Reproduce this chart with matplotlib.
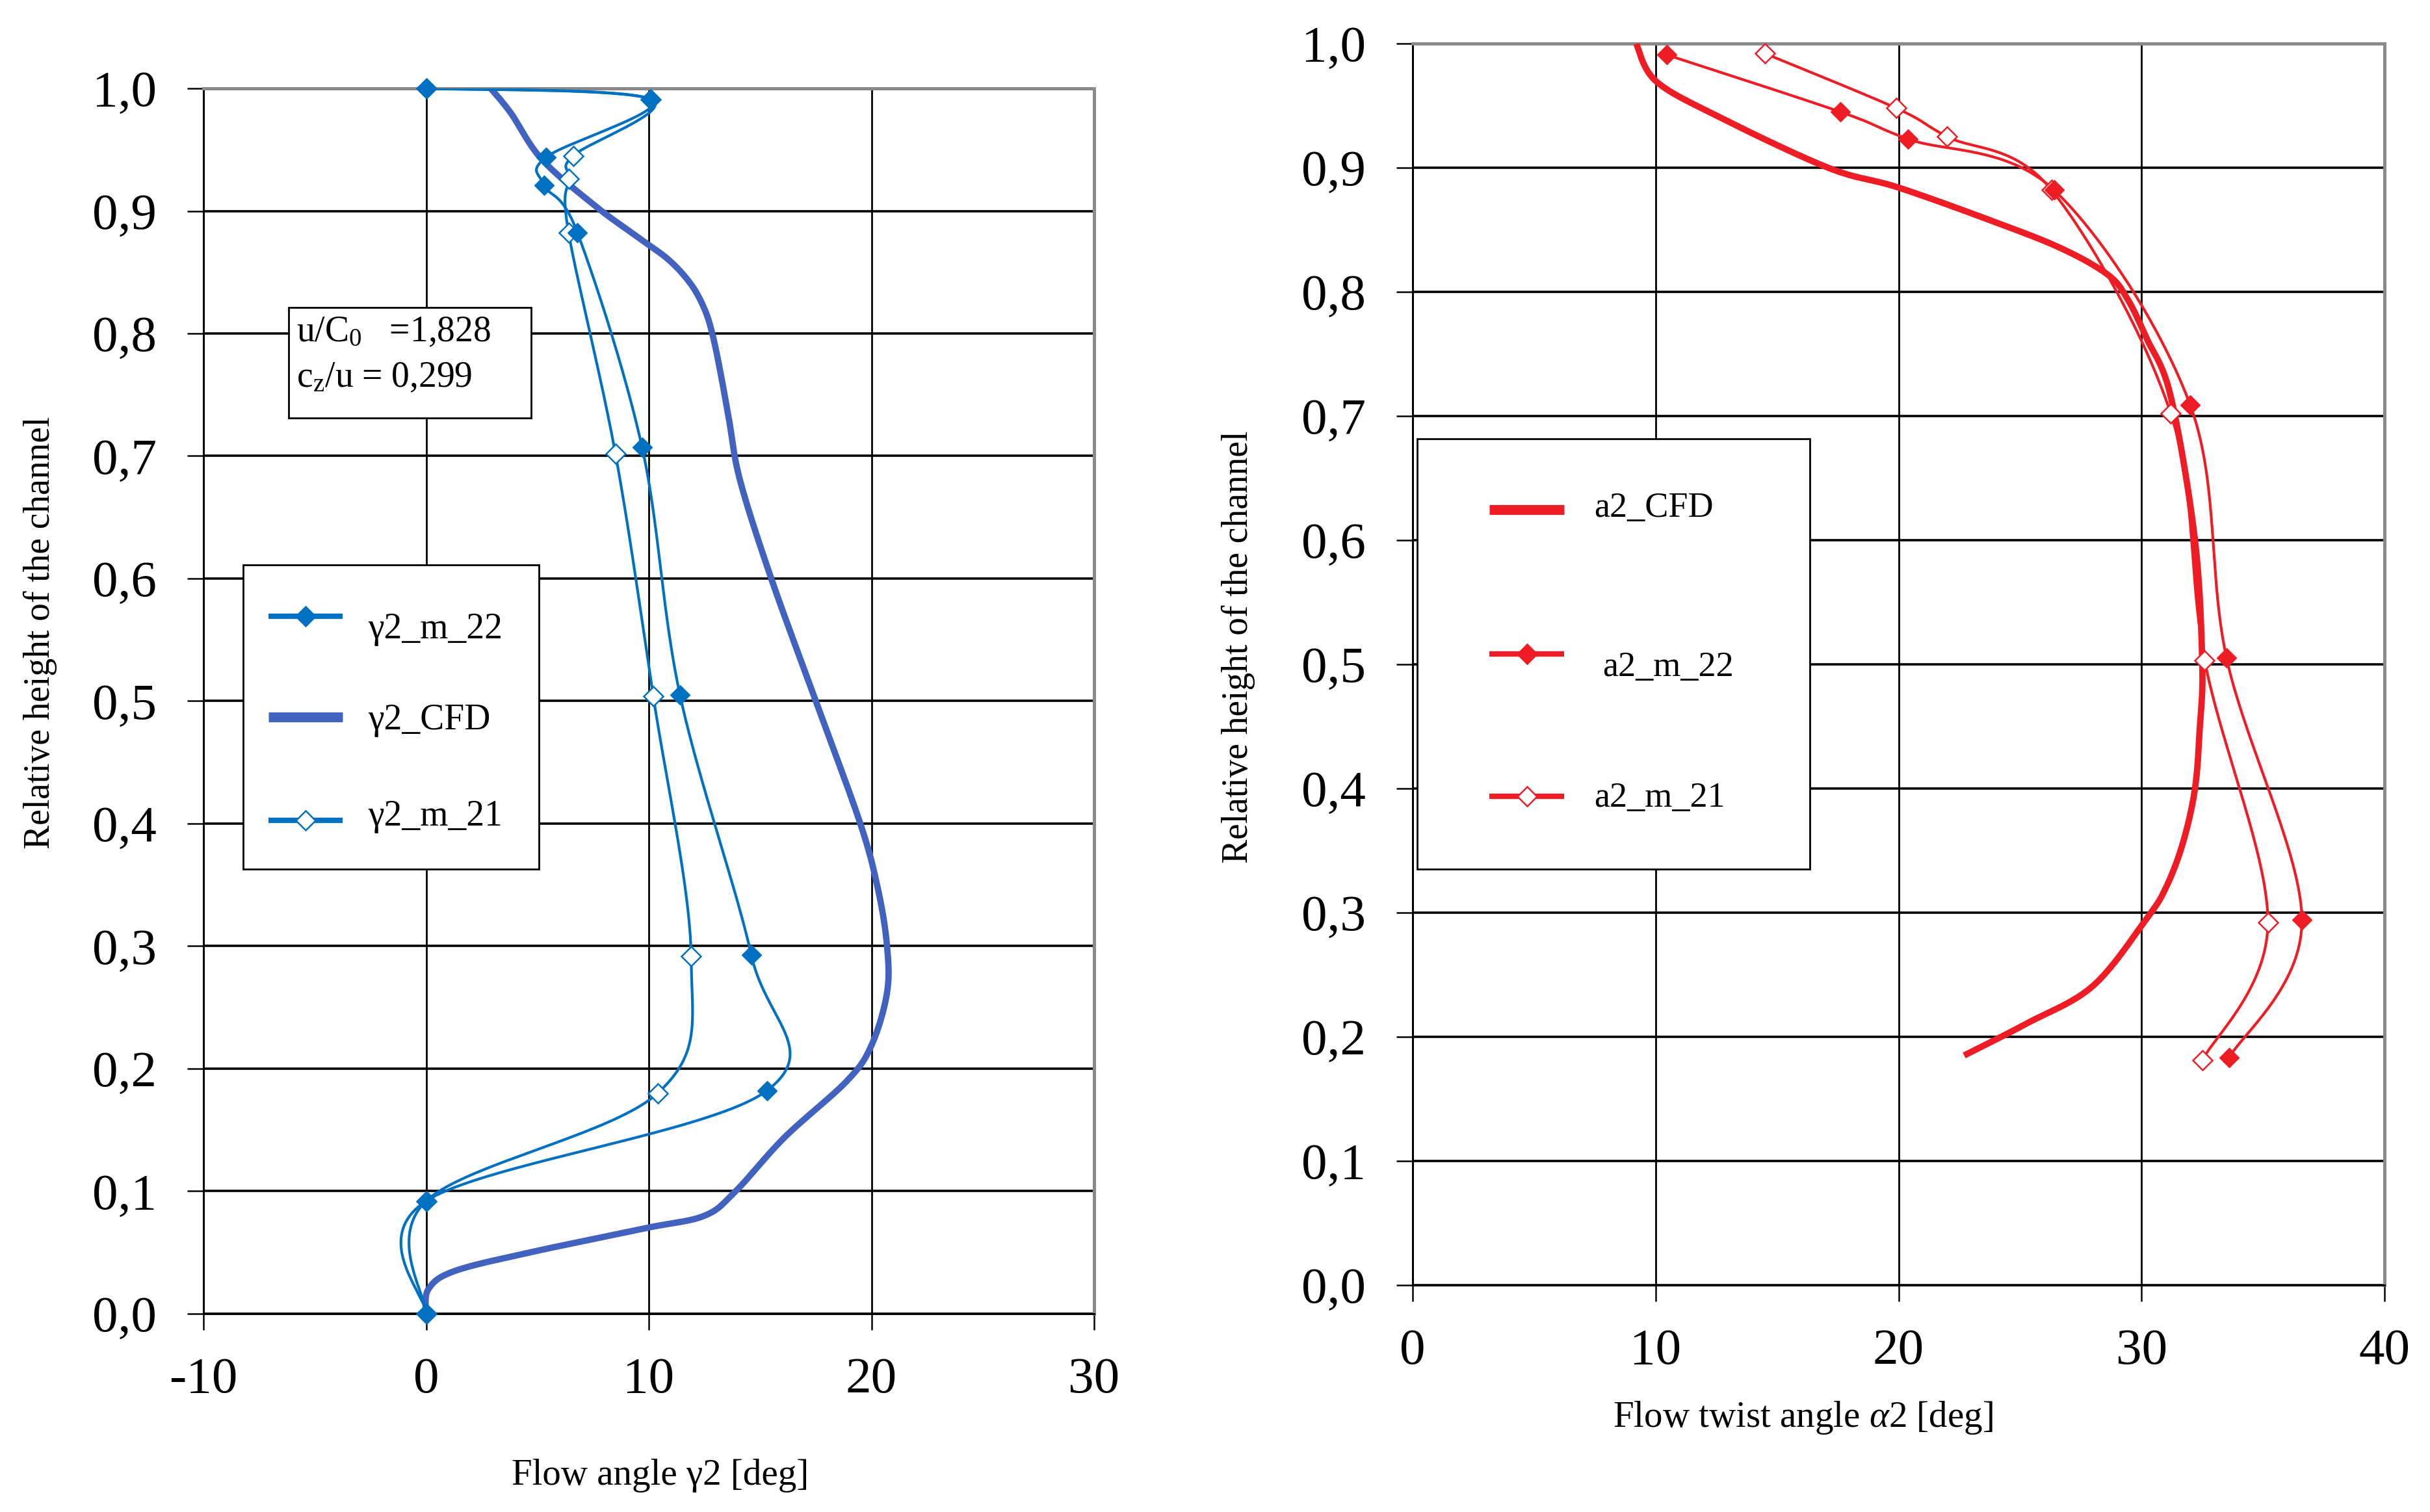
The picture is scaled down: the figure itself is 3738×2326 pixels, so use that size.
import matplotlib
matplotlib.use("Agg")
import matplotlib.pyplot as plt
import numpy as np
from matplotlib.patches import Rectangle

plt.rcParams["font.family"] = ["Liberation Serif", "DejaVu Serif"]
plt.rcParams["mathtext.fontset"] = "custom"
plt.rcParams["mathtext.rm"] = "Liberation Serif"
plt.rcParams["mathtext.it"] = "Liberation Serif:italic"

# left chart: flow angle gamma2
h_g_m22 = [1.0, 0.991, 0.944, 0.921, 0.882, 0.707, 0.505, 0.293, 0.182, 0.092, 0.0]
g_m22 = [0.0, 10.1, 5.4, 5.3, 6.8, 9.7, 11.4, 14.6, 15.3, 0.0, 0.0]
h_g_m21 = [1.0, 0.991, 0.945, 0.926, 0.882, 0.702, 0.504, 0.292, 0.180, 0.092, 0.0]
g_m21 = [0.0, 10.1, 6.6, 6.4, 6.4, 8.5, 10.2, 11.9, 10.4, 0.0, 0.0]
h_g_cfd = [1.0, 0.98, 0.942, 0.904, 0.88, 0.86, 0.84, 0.82, 0.8, 0.77, 0.73,
           0.68, 0.6, 0.5, 0.4, 0.346, 0.3, 0.262, 0.219, 0.19, 0.144, 0.1,
           0.08, 0.07, 0.051, 0.035, 0.02, 0.0]
g_cfd = [2.9, 3.8, 5.2, 7.6, 9.4, 10.9, 11.9, 12.5, 12.85, 13.2, 13.6,
         14.1, 15.5, 17.5, 19.5, 20.3, 20.7, 20.7, 20.0, 18.9, 16.1, 13.9,
         12.5, 9.9, 4.9, 1.3, 0.1, 0.0]

# right chart: flow twist angle alpha2
h_a_m22 = [0.991, 0.945, 0.923, 0.882, 0.709, 0.505, 0.294, 0.183]
a_m22 = [10.45, 17.6, 20.4, 26.4, 32.0, 33.5, 36.6, 33.6]
h_a_m21 = [0.992, 0.948, 0.925, 0.882, 0.702, 0.503, 0.292, 0.181]
a_m21 = [14.5, 19.9, 22.0, 26.3, 31.2, 32.6, 35.2, 32.5]
h_a_cfd = [1.0, 0.97, 0.942, 0.9, 0.884, 0.856, 0.835, 0.814, 0.795, 0.763,
           0.716, 0.6, 0.5, 0.45, 0.4, 0.356, 0.32, 0.295, 0.241, 0.211, 0.185]
a_cfd = [9.2, 10.0, 12.5, 17.1, 20.0, 24.0, 26.7, 28.6, 29.4, 30.2,
         31.2, 32.2, 32.5, 32.4, 32.2, 31.7, 31.0, 30.2, 28.0, 25.3, 22.7]

y_ticks = [0.0, 0.1, 0.2, 0.3, 0.4, 0.5, 0.6, 0.7, 0.8, 0.9, 1.0]
y_ticklabels = ["0,0", "0,1", "0,2", "0,3", "0,4", "0,5", "0,6", "0,7", "0,8", "0,9", "1,0"]
g_ticks = [-10, 0, 10, 20, 30]
g_ticklabels = ["-10", "0", "10", "20", "30"]
a_ticks = [0, 10, 20, 30, 40]
a_ticklabels = ["0", "10", "20", "30", "40"]

BLUE = "#0070C0"
BLUE_CFD = "#4262C0"
RED = "#EE1D25"


def smooth(x, y, n=40):
    """Excel-like smoothed line (Catmull-Rom through the points)."""
    p = np.column_stack([x, y]).astype(float)
    p = np.vstack([p[0], p, p[-1]])
    t = np.linspace(0, 1, n, endpoint=False)[:, None]
    out = []
    for i in range(1, len(p) - 2):
        p0, p1, p2, p3 = p[i - 1], p[i], p[i + 1], p[i + 2]
        m1 = (p2 - p0) / 2
        m2 = (p3 - p1) / 2
        h00 = 2 * t**3 - 3 * t**2 + 1
        h10 = t**3 - 2 * t**2 + t
        h01 = -2 * t**3 + 3 * t**2
        h11 = t**3 - t**2
        out.append(h00 * p1 + h10 * m1 + h01 * p2 + h11 * m2)
    out.append(p[-2][None, :])
    out = np.vstack(out)
    return out[:, 0], out[:, 1]


def style_axes(ax, ticks, ticklabels, xlim):
    ax.set_xlim(xlim)
    ax.set_ylim(0, 1)
    ax.set_xticks(ticks)
    ax.set_xticklabels(ticklabels)
    ax.set_yticks(y_ticks)
    ax.set_yticklabels(y_ticklabels)
    ax.set_axisbelow(True)
    ax.xaxis.grid(True, color="black", lw=2.0)
    ax.yaxis.grid(True, color="black", lw=2.6)
    ax.tick_params(axis="both", direction="out", length=18, width=1.8,
                   labelsize=57, color="black")
    ax.tick_params(axis="y", pad=34)
    ax.tick_params(axis="x", pad=30)
    for side in ("left", "bottom"):
        ax.spines[side].set_color("black")
        ax.spines[side].set_linewidth(2.2)
    for side in ("top", "right"):
        ax.spines[side].set_color("#8a8a8a")
        ax.spines[side].set_linewidth(3.6)


def legend_box(ax, box, entries, fs):
    x0, y0, x1, y1 = box
    ax.add_patch(Rectangle((x0, y0), x1 - x0, y1 - y0, transform=ax.transAxes,
                           facecolor="white", edgecolor="black", lw=2.0,
                           zorder=5, clip_on=False))
    for hx0, hx1, hy, tx, ty, label, color, lw, mfc in entries:
        ax.plot([hx0, hx1], [hy, hy], transform=ax.transAxes, clip_on=False,
                zorder=6, color=color, lw=lw, solid_capstyle="butt")
        if mfc is not None:
            ax.plot([(hx0 + hx1) / 2], [hy], transform=ax.transAxes,
                    clip_on=False, zorder=7, ls="none", marker="D", ms=15,
                    mfc=mfc, mec=color, mew=1.8)
        ax.text(tx, ty, label, transform=ax.transAxes, fontsize=fs,
                ha="left", va="center", zorder=7)


fig = plt.figure(figsize=(37.38, 23.26), dpi=100)
ax1 = fig.add_axes([0.08374, 0.13113, 0.36651, 0.81040])
ax2 = fig.add_axes([0.58133, 0.15004, 0.39995, 0.82115])

# ---- left chart
style_axes(ax1, g_ticks, g_ticklabels, (-10, 30))
ax1.plot(*smooth(g_cfd, h_g_cfd), color=BLUE_CFD, lw=7, solid_capstyle="butt", zorder=3)
ax1.plot(*smooth(g_m21, h_g_m21), color=BLUE, lw=3, zorder=4)
ax1.plot(*smooth(g_m22, h_g_m22), color=BLUE, lw=3, zorder=4)
ax1.plot(g_m21, h_g_m21, ls="none", marker="D", ms=15, mfc="white", mec=BLUE,
         mew=1.8, zorder=5, clip_on=False)
ax1.plot(g_m22, h_g_m22, ls="none", marker="D", ms=15, mfc=BLUE, mec=BLUE,
         zorder=6, clip_on=False)

legend_box(ax1, (0.0445, 0.3629, 0.3766, 0.6111), [
    (0.0730, 0.1562, 0.5692, 0.1847, 0.5586, "γ2_m_22", BLUE, 6, BLUE),
    (0.0730, 0.1562, 0.4870, 0.1847, 0.4843, "γ2_CFD", BLUE_CFD, 11, None),
    (0.0730, 0.1562, 0.4027, 0.1847, 0.4058, "γ2_m_21", BLUE, 6, "white"),
], 40)

ax1.add_patch(Rectangle((0.0956, 0.7310), 0.3679 - 0.0956, 0.8212 - 0.7310,
                        transform=ax1.transAxes, facecolor="white",
                        edgecolor="black", lw=2.0, zorder=5))
ax1.text(0.1044, 0.7936, r"u/$\mathrm{C_0}$   =1,828", transform=ax1.transAxes,
         fontsize=40, ha="left", va="baseline", zorder=6)
ax1.text(0.1044, 0.7565, r"$\mathrm{c_z}$/u = 0,299", transform=ax1.transAxes,
         fontsize=40, ha="left", va="baseline", zorder=6)

# ---- right chart
style_axes(ax2, a_ticks, a_ticklabels, (0, 40))
ax2.plot(*smooth(a_cfd, h_a_cfd), color=RED, lw=7, solid_capstyle="butt", zorder=3)
ax2.plot(*smooth(a_m21, h_a_m21), color=RED, lw=3, zorder=4)
ax2.plot(*smooth(a_m22, h_a_m22), color=RED, lw=3, zorder=4)
ax2.plot(a_m21, h_a_m21, ls="none", marker="D", ms=15, mfc="white", mec=RED,
         mew=1.8, zorder=5)
ax2.plot(a_m22, h_a_m22, ls="none", marker="D", ms=15, mfc=RED, mec=RED, zorder=6)

legend_box(ax2, (0.0047, 0.3351, 0.4087, 0.6817), [
    (0.0789, 0.1559, 0.6246, 0.1866, 0.6257, "a2_CFD", RED, 11, None),
    (0.0789, 0.1559, 0.5084, 0.1953, 0.4974, "a2_m_22", RED, 6, RED),
    (0.0789, 0.1559, 0.3937, 0.1866, 0.3921, "a2_m_21", RED, 6, "white"),
], 39)

# axis titles
fig.text(62 / 3738, 1 - 973 / 2326, "Relative height of the channel",
         rotation=90, ha="center", va="center", fontsize=40)
fig.text(1905 / 3738, 1 - 995 / 2326, "Relative height of the channel",
         rotation=90, ha="center", va="center", fontsize=40)
fig.text(1016 / 3738, 1 - 2284 / 2326, "Flow angle γ2 [deg]",
         ha="center", va="baseline", fontsize=41)
fig.text(2773 / 3738, 1 - 2195 / 2326, r"Flow twist angle $\alpha$2 [deg]",
         ha="center", va="baseline", fontsize=41)

fig.savefig("out.png", dpi=100)
